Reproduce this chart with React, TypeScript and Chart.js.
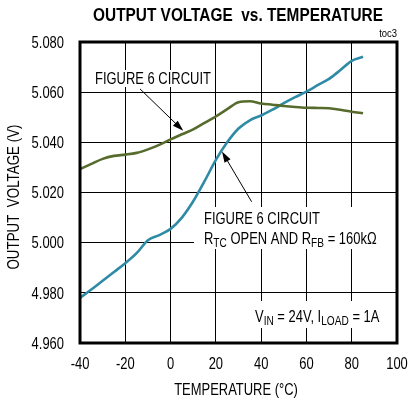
import React, { useEffect, useRef } from 'react';
import { Chart, registerables } from 'chart.js';

Chart.register(...registerables);

// ---- data ----
const temps = [-40, -35, -30, -25, -20, -15, -10, -5, 0, 5, 10, 15, 20, 25, 30, 35, 40, 45, 50, 55, 60, 65, 70, 75, 80, 85];
const rtcOpen = [4.978, 4.9813, 4.9848, 4.9883, 4.9918, 4.9958, 5.001, 5.003, 5.0055, 5.01, 5.0165, 5.0245, 5.033, 5.04, 5.0455, 5.0488, 5.0507, 5.053, 5.0556, 5.058, 5.0602, 5.0628, 5.0653, 5.0688, 5.0725, 5.0741];
const figure6 = [5.0293, 5.0314, 5.0334, 5.0346, 5.0351, 5.0358, 5.0372, 5.039, 5.0412, 5.0432, 5.0452, 5.0478, 5.0503, 5.0532, 5.056, 5.0564, 5.0555, 5.055, 5.0545, 5.0541, 5.0538, 5.0537, 5.0536, 5.053, 5.0522, 5.0516];
const xTicks = [-40, -20, 0, 20, 40, 60, 80, 100];
const yTicks = [4.96, 4.98, 5.0, 5.02, 5.04, 5.06, 5.08];

const SANS = "'Liberation Sans', Arial, sans-serif";
const SX = 0.81; // horizontal condensing to mimic a narrow face
const GREEN = '#566b2c';
const BLUE = '#2f8ba5';

type Seg = { t: string; sub?: boolean };

function text(ctx: CanvasRenderingContext2D, s: string, x: number, y: number, font: string, align: CanvasTextAlign, sx = SX) {
  ctx.save();
  ctx.translate(x, y);
  ctx.scale(sx, 1);
  ctx.font = font;
  ctx.textAlign = align;
  ctx.fillText(s, 0, 0);
  ctx.restore();
}

function drawRich(ctx: CanvasRenderingContext2D, segs: Seg[], x: number, y: number, size: number, subSize: number, subDrop: number) {
  let cx = x;
  for (const s of segs) {
    const f = `${s.sub ? subSize : size}px ${SANS}`;
    text(ctx, s.t, cx, s.sub ? y + subDrop : y, f, 'left');
    ctx.font = f;
    cx += ctx.measureText(s.t).width * SX;
  }
}

function arrow(ctx: CanvasRenderingContext2D, x1: number, y1: number, x2: number, y2: number) {
  const ang = Math.atan2(y2 - y1, x2 - x1);
  const len = 11;
  const hw = 3.5;
  ctx.beginPath();
  ctx.moveTo(x1, y1);
  ctx.lineTo(x2 - Math.cos(ang) * len * 0.8, y2 - Math.sin(ang) * len * 0.8);
  ctx.lineWidth = 1;
  ctx.strokeStyle = '#000';
  ctx.stroke();
  const bx = x2 - Math.cos(ang) * len;
  const by = y2 - Math.sin(ang) * len;
  ctx.beginPath();
  ctx.moveTo(x2, y2);
  ctx.lineTo(bx + Math.sin(ang) * hw, by - Math.cos(ang) * hw);
  ctx.lineTo(bx - Math.sin(ang) * hw, by + Math.cos(ang) * hw);
  ctx.closePath();
  ctx.fillStyle = '#000';
  ctx.fill();
}

const decor = {
  id: 'decor',
  beforeDatasetsDraw(chart: any) {
    const ctx: CanvasRenderingContext2D = chart.ctx;
    ctx.save();
    ctx.fillStyle = '#fff';
    ctx.fillRect(92, 70, 121, 17);
    ctx.fillRect(194, 207, 202, 42);
    ctx.fillRect(251, 301, 138, 27);
    ctx.restore();
  },
  afterDraw(chart: any) {
    const ctx: CanvasRenderingContext2D = chart.ctx;
    const { left, top, right, bottom } = chart.chartArea;
    const xs = chart.scales.x;
    const ys = chart.scales.y;
    ctx.save();
    // frame
    ctx.strokeStyle = '#000';
    ctx.lineWidth = 3;
    ctx.strokeRect(left, top, right - left, bottom - top);

    ctx.fillStyle = '#000';
    ctx.textBaseline = 'alphabetic';

    // tick labels, positioned by the scales
    const tickFont = `16px ${SANS}`;
    xs.ticks.forEach((t: any) => {
      text(ctx, String(t.value), xs.getPixelForValue(t.value), bottom + 26, tickFont, 'center');
    });
    ys.ticks.forEach((t: any) => {
      text(ctx, Number(t.value).toFixed(3), left - 16, ys.getPixelForValue(t.value) + 5.7, tickFont, 'right');
    });

    // title
    text(ctx, 'OUTPUT VOLTAGE  vs. TEMPERATURE', 238, 20.5, `bold 19px ${SANS}`, 'center');
    // toc3
    text(ctx, 'toc3', 397, 37, `10.5px ${SANS}`, 'right', 0.9);
    // x title
    text(ctx, 'TEMPERATURE (°C)', 236, 395, `16px ${SANS}`, 'center');
    // y title
    ctx.save();
    ctx.translate(18.5, 197);
    ctx.rotate(-Math.PI / 2);
    text(ctx, 'OUTPUT  VOLTAGE (V)', 0, 0, `16.5px ${SANS}`, 'center');
    ctx.restore();

    // annotations
    text(ctx, 'FIGURE 6 CIRCUIT', 95, 84, `16px ${SANS}`, 'left');
    text(ctx, 'FIGURE 6 CIRCUIT', 204, 224, `16px ${SANS}`, 'left');
    drawRich(ctx, [
      { t: 'R' }, { t: 'TC', sub: true }, { t: ' OPEN AND R' }, { t: 'FB', sub: true }, { t: ' = 160kΩ' },
    ], 204, 244, 16, 12.5, 3);
    drawRich(ctx, [
      { t: 'V' }, { t: 'IN', sub: true }, { t: ' = 24V, I' }, { t: 'LOAD', sub: true }, { t: ' = 1A' },
    ], 255, 321.5, 16, 12.5, 3.5);

    // arrows (anchored in data coordinates)
    arrow(ctx, xs.getPixelForValue(-13.5), ys.getPixelForValue(5.0613), xs.getPixelForValue(5.6), ys.getPixelForValue(5.0446));
    arrow(ctx, xs.getPixelForValue(35.8), ys.getPixelForValue(5.0163), xs.getPixelForValue(22.7), ys.getPixelForValue(5.0363));
    ctx.restore();
  },
};

export default function App() {
  const ref = useRef<HTMLCanvasElement | null>(null);
  useEffect(() => {
    if (!ref.current) return;
    const chart = new Chart(ref.current, {
      type: 'line',
      data: {
        datasets: [
          {
            label: 'Figure 6 circuit',
            data: temps.map((t, i) => ({ x: t, y: figure6[i] })),
            borderColor: GREEN,
            borderWidth: 2.6,
            pointRadius: 0,
            cubicInterpolationMode: 'monotone',
            fill: false,
          },
          {
            label: 'RTC open, RFB = 160k',
            data: temps.map((t, i) => ({ x: t, y: rtcOpen[i] })),
            borderColor: BLUE,
            borderWidth: 2.6,
            pointRadius: 0,
            cubicInterpolationMode: 'monotone',
            fill: false,
          },
        ],
      },
      options: {
        responsive: false,
        animation: false,
        events: [],
        layout: { padding: { left: 0, top: 42, right: 12, bottom: 0 } },
        plugins: { legend: { display: false }, tooltip: { enabled: false }, title: { display: false } },
        scales: {
          x: {
            type: 'linear',
            min: -40,
            max: 100,
            afterBuildTicks: (s: any) => { s.ticks = xTicks.map((v) => ({ value: v })); },
            afterFit: (s: any) => { s.height = 59; },
            grid: { color: '#000', lineWidth: 1, drawTicks: false },
            border: { display: false },
            ticks: { display: false },
          },
          y: {
            type: 'linear',
            min: 4.96,
            max: 5.08,
            afterBuildTicks: (s: any) => { s.ticks = yTicks.map((v) => ({ value: v })); },
            afterFit: (s: any) => { s.width = 80; },
            grid: { color: '#000', lineWidth: 1, drawTicks: false },
            border: { display: false },
            ticks: { display: false },
          },
        },
      },
      plugins: [decor],
    } as any);
    return () => chart.destroy();
  }, []);
  return (
    <div style={{ position: 'fixed', left: 0, top: 0, width: 409, height: 402, background: '#fff' }}>
      <canvas ref={ref} width={409} height={402} style={{ display: 'block', width: 409, height: 402 }} />
    </div>
  );
}
